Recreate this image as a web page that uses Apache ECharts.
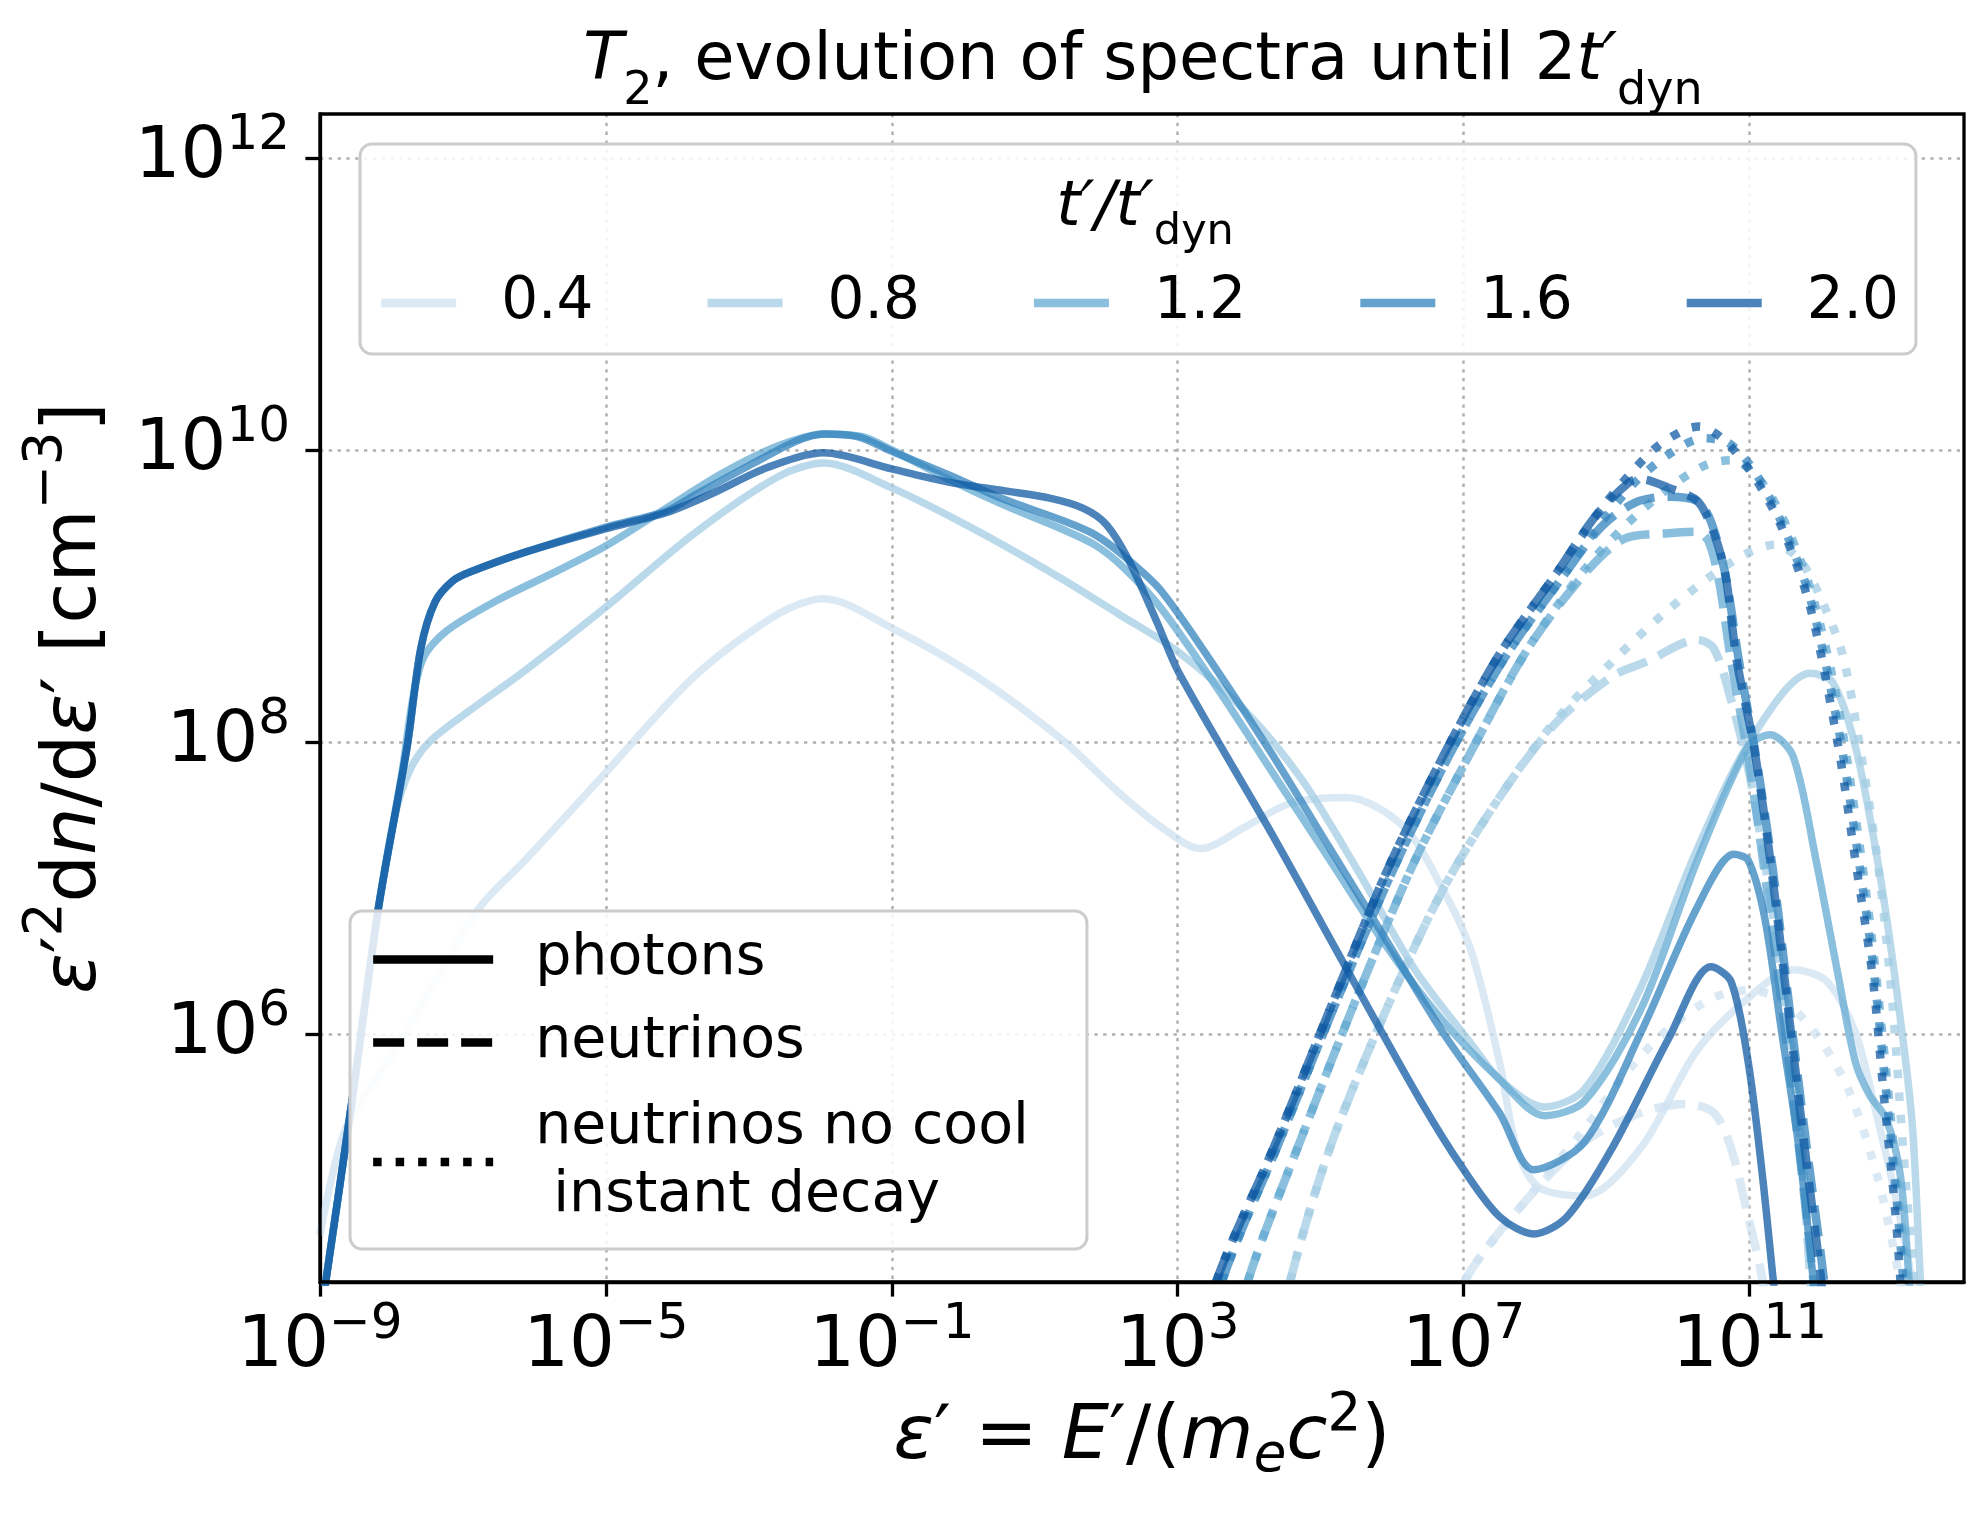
<!DOCTYPE html>
<html>
<head>
<meta charset="utf-8">
<title>T2 spectra evolution</title>
<script src="https://cdn.jsdelivr.net/npm/echarts@6/dist/echarts.min.js"></script>
<style>
    html, body { margin: 0; padding: 0; background: #fff; }
    #chart { width: 1984px; height: 1516px; }
</style>
</head>
<body>
<div id="chart"></div>
<script>
// points as [log10 eps', log10 eps'^2 dn/deps']
var TIMES = ['0.4', '0.8', '1.2', '1.6', '2.0'];
var COLORS = ['#cfe1f2', '#a3cce3', '#64aad3', '#3383be', '#0f5aa3'];
var X_TICKS = [-9, -5, -1, 3, 7, 11];
var Y_TICKS = [6, 8, 10, 12];
var X_MIN = 1e-9, X_MAX = 1e14;
var Y_MIN = 2e4, Y_MAX = 2e12;

// photons (solid)
var PH_04 = [[-9.0, 4.62], [-8.65, 5.34], [-8.0, 5.85], [-7.4, 6.35], [-6.76, 6.87], [-6.13, 7.19], [-5.02, 7.78],
    [-3.76, 8.45], [-2.58, 8.88], [-1.95, 8.98], [-1.0, 8.78], [0.18, 8.45], [1.37, 8.02], [2.16, 7.66], [2.76, 7.42],
    [3.32, 7.27], [3.95, 7.42], [4.58, 7.58], [5.37, 7.62], [6.16, 7.42], [6.71, 6.99], [7.11, 6.56], [7.5, 5.81],
    [7.74, 5.22], [8.05, 4.95], [8.69, 4.89], [9.48, 5.22], [10.27, 5.89], [11.06, 6.28], [11.61, 6.44], [12.08, 6.36],
    [12.48, 6.01], [12.79, 5.42], [13.03, 4.91], [13.27, 4.32], [13.35, 4.0]];
var PH_08 = [[-8.95, 4.2], [-8.55, 5.55], [-8.18, 6.87], [-7.95, 7.5], [-7.75, 7.8], [-7.47, 8.0], [-6.92, 8.21],
    [-6.13, 8.49], [-5.01, 8.92], [-3.76, 9.43], [-2.58, 9.82], [-1.95, 9.91], [-1.0, 9.74], [0.18, 9.45], [1.37, 9.12],
    [2.16, 8.88], [3.0, 8.62], [3.95, 8.21], [4.74, 7.74], [5.53, 7.11], [6.32, 6.44], [7.11, 5.93], [7.5, 5.69],
    [8.13, 5.5], [8.69, 5.62], [9.48, 6.32], [10.27, 7.27], [11.06, 8.05], [11.85, 8.47], [12.16, 8.41], [12.48, 7.97],
    [12.79, 7.19], [13.03, 6.4], [13.27, 5.42], [13.39, 4.32], [13.45, 3.9]];
var PH_12 = [[-8.95, 4.2], [-8.55, 5.55], [-8.18, 6.87], [-7.85, 7.8], [-7.7, 8.3], [-7.55, 8.58], [-7.23, 8.76],
    [-6.52, 8.97], [-5.73, 9.16], [-5.01, 9.34], [-4.16, 9.6], [-3.37, 9.84], [-2.58, 10.03], [-1.95, 10.11],
    [-1.4, 10.09], [-1.0, 10.0], [-0.21, 9.8], [0.58, 9.62], [1.37, 9.46], [1.84, 9.35], [2.23, 9.2], [2.76, 8.92],
    [3.55, 8.37], [4.34, 7.78], [5.13, 7.19], [5.92, 6.6], [6.71, 6.09], [7.5, 5.69], [8.13, 5.44], [8.69, 5.54],
    [9.48, 6.17], [10.27, 7.19], [10.98, 7.97], [11.29, 8.05], [11.61, 7.9], [11.93, 7.19], [12.24, 6.4], [12.48, 5.81],
    [12.68, 5.58], [12.91, 5.42], [13.11, 5.03], [13.23, 4.32], [13.28, 3.9]];
var PH_16 = [[-8.95, 4.2], [-8.55, 5.55], [-8.18, 6.87], [-7.78, 7.97], [-7.59, 8.64], [-7.39, 8.96], [-7.15, 9.1],
    [-6.92, 9.16], [-6.13, 9.3], [-5.01, 9.47], [-4.16, 9.58], [-3.76, 9.69], [-2.97, 9.9], [-2.34, 10.06],
    [-1.95, 10.11], [-1.47, 10.09], [-1.0, 9.99], [-0.21, 9.83], [0.58, 9.66], [1.37, 9.52], [1.84, 9.42], [2.23, 9.28],
    [2.76, 9.04], [3.55, 8.49], [4.34, 7.9], [5.13, 7.27], [5.92, 6.64], [6.71, 6.01], [7.5, 5.46], [7.98, 5.07],
    [8.69, 5.26], [9.48, 6.01], [10.27, 6.87], [10.78, 7.23], [10.98, 7.19], [11.21, 6.8], [11.45, 6.01], [11.69, 5.22],
    [11.89, 4.32], [11.95, 4.0]];
var PH_20 = [[-8.95, 4.2], [-8.55, 5.55], [-8.18, 6.87], [-7.78, 7.97], [-7.59, 8.64], [-7.39, 8.96], [-7.15, 9.1],
    [-6.92, 9.16], [-6.13, 9.3], [-5.01, 9.46], [-4.16, 9.57], [-3.52, 9.7], [-2.74, 9.88], [-1.95, 9.98], [-1.0, 9.87],
    [-0.21, 9.78], [0.58, 9.72], [1.21, 9.67], [1.68, 9.6], [2.0, 9.49], [2.31, 9.25], [2.71, 8.82], [3.02, 8.47],
    [4.34, 7.35], [5.37, 6.44], [6.4, 5.54], [7.0, 5.07], [7.5, 4.75], [7.98, 4.63], [8.45, 4.75], [9.08, 5.22],
    [9.87, 5.97], [10.46, 6.46], [10.74, 6.36], [10.98, 5.81], [11.18, 5.03], [11.33, 4.32], [11.4, 4.0]];

// neutrinos (dashed)
var NU_04 = [[6.9, 4.0], [7.03, 4.32], [7.82, 4.83], [8.69, 5.26], [9.48, 5.46], [10.11, 5.52], [10.5, 5.46],
    [10.74, 5.22], [10.98, 4.75], [11.18, 4.32], [11.25, 4.0]];
var NU_08 = [[4.5, 4.0], [4.58, 4.32], [5.13, 5.22], [5.92, 6.17], [6.71, 6.99], [7.5, 7.62], [8.29, 8.13],
    [9.08, 8.45], [9.56, 8.55], [10.27, 8.7], [10.5, 8.64], [10.74, 8.29], [10.98, 7.82], [11.21, 7.19], [11.45, 6.4],
    [11.69, 5.42], [11.85, 4.32], [11.9, 4.0]];
var NU_12 = [[3.9, 4.0], [3.99, 4.32], [4.74, 5.3], [5.53, 6.28], [6.32, 7.19], [7.11, 7.94], [7.9, 8.64],
    [8.69, 9.15], [9.24, 9.39], [9.87, 9.43], [10.27, 9.44], [10.43, 9.37], [10.58, 9.08], [10.74, 8.56], [10.98, 7.9],
    [11.21, 7.11], [11.45, 6.21], [11.69, 5.22], [11.89, 4.32], [11.95, 4.0]];
var NU_16 = [[3.55, 4.0], [3.63, 4.32], [4.42, 5.26], [5.21, 6.21], [6.0, 7.11], [6.79, 7.9], [7.58, 8.58],
    [8.37, 9.12], [8.92, 9.47], [9.4, 9.64], [9.87, 9.68], [10.27, 9.65], [10.46, 9.51], [10.66, 9.15], [10.85, 8.56],
    [11.09, 7.9], [11.33, 7.11], [11.56, 6.17], [11.8, 5.22], [12.04, 4.32], [12.1, 4.0]];
var NU_20 = [[3.45, 4.0], [3.55, 4.32], [4.34, 5.22], [5.13, 6.17], [5.92, 7.11], [6.71, 7.9], [7.5, 8.6],
    [8.29, 9.15], [8.85, 9.55], [9.32, 9.78], [9.48, 9.8], [9.87, 9.74], [10.27, 9.65], [10.5, 9.43], [10.66, 9.15],
    [10.82, 8.56], [11.06, 7.97], [11.29, 7.19], [11.53, 6.21], [11.77, 5.22], [12.0, 4.32], [12.05, 4.0]];

// neutrinos, no cooling and instant decay (dotted)
var NC_04 = [[6.9, 4.0], [7.03, 4.32], [7.82, 4.83], [8.69, 5.35], [9.3, 5.75], [9.9, 6.05], [10.5, 6.25],
    [11.0, 6.3], [11.5, 6.22], [12.0, 5.95], [12.4, 5.6], [12.8, 5.0], [13.1, 4.32], [13.2, 4.0]];
var NC_08 = [[4.5, 4.0], [4.58, 4.32], [5.13, 5.22], [5.92, 6.17], [6.71, 6.99], [7.5, 7.62], [8.29, 8.15],
    [9.08, 8.55], [9.8, 8.88], [10.5, 9.15], [11.0, 9.3], [11.35, 9.35], [11.7, 9.25], [12.0, 8.98], [12.3, 8.6],
    [12.55, 7.95], [12.8, 7.15], [13.0, 6.2], [13.15, 5.2], [13.3, 4.32], [13.35, 4.0]];
var NC_12 = [[3.9, 4.0], [3.99, 4.32], [4.74, 5.3], [5.53, 6.28], [6.32, 7.19], [7.11, 7.94], [7.9, 8.64],
    [8.69, 9.18], [9.3, 9.5], [9.9, 9.75], [10.4, 9.9], [10.75, 9.93], [11.1, 9.82], [11.45, 9.55], [11.85, 9.05],
    [12.2, 8.35], [12.45, 7.6], [12.7, 6.7], [12.9, 5.8], [13.08, 4.9], [13.2, 4.32], [13.25, 4.0]];
var NC_16 = [[3.55, 4.0], [3.63, 4.32], [4.42, 5.26], [5.21, 6.21], [6.0, 7.11], [6.79, 7.9], [7.58, 8.58],
    [8.37, 9.12], [8.92, 9.5], [9.4, 9.78], [9.9, 9.98], [10.35, 10.08], [10.7, 10.05], [11.06, 9.86], [11.45, 9.5],
    [11.85, 8.98], [12.24, 8.1], [12.48, 7.35], [12.72, 6.5], [12.9, 5.65], [13.06, 4.85], [13.15, 4.32], [13.2, 4.0]];
var NC_20 = [[3.45, 4.0], [3.55, 4.32], [4.34, 5.22], [5.13, 6.17], [5.92, 7.11], [6.71, 7.9], [7.5, 8.6],
    [8.29, 9.15], [8.85, 9.55], [9.3, 9.82], [9.7, 10.02], [10.1, 10.14], [10.3, 10.16], [10.66, 10.06], [11.06, 9.82],
    [11.45, 9.47], [11.85, 8.92], [12.24, 7.97], [12.48, 7.19], [12.72, 6.4], [12.87, 5.62], [13.03, 4.83],
    [13.11, 4.32], [13.15, 4.0]];

var PHOTONS = [PH_04, PH_08, PH_12, PH_16, PH_20];
var NEUTRINOS = [NU_04, NU_08, NU_12, NU_16, NU_20];
var NOCOOL = [NC_04, NC_08, NC_12, NC_16, NC_20];

var FONT = 'DejaVu Sans';
var DASH = [31, 13];
var DOT = [8.5, 14];
var KIND_NAMES = ['photons', 'neutrinos', 'neutrinos no cool\n instant decay'];

function toPoints(arr) {
    return arr.map(function (p) {
        return [Math.pow(10, p[0]), Math.pow(10, p[1])];
    });
}

function makeLine(name, pts, color, dash, width, opacity) {
    return {
        name: name,
        type: 'line',
        xAxisIndex: 1,
        yAxisIndex: 1,
        data: toPoints(pts),
        smooth: 0.3,
        symbol: 'none',
        showSymbol: false,
        silent: true,
        emphasis: {disabled: true},
        lineStyle: {color: color, width: width, type: dash, opacity: opacity, cap: 'butt'},
        itemStyle: {color: color},
        z: 2
    };
}

function expLabel(v) {
    var e = Math.round(v);
    return '{b|10}{s|' + (e < 0 ? '\u2212' + (-e) : e) + '}';
}

// mathtext-like pieces: upright, italic, superscript, subscript
function mathRich(size) {
    var small = Math.round(size * 0.7);
    return {
        n: {fontFamily: FONT, fontSize: size, lineHeight: size, fontWeight: 'normal', color: '#000'},
        it: {fontFamily: FONT, fontStyle: 'italic', fontSize: size, lineHeight: size, fontWeight: 'normal', color: '#000'},
        sup: {fontFamily: FONT, fontSize: small, lineHeight: small, fontWeight: 'normal', padding: [0, 0, Math.round(size * 0.6), 0], color: '#000'},
        sub: {fontFamily: FONT, fontSize: small, lineHeight: small, fontWeight: 'normal', padding: [Math.round(size * 0.85), 0, 0, 0], color: '#000'},
        subi: {fontFamily: FONT, fontStyle: 'italic', fontSize: small, lineHeight: small, fontWeight: 'normal', padding: [Math.round(size * 0.5), 0, 0, 0], color: '#000'}
    };
}

var tickRich = {
    b: {fontFamily: FONT, fontSize: 72, lineHeight: 72, color: '#000'},
    s: {fontFamily: FONT, fontSize: 50, lineHeight: 50, padding: [0, 0, 43, 0], color: '#000'}
};

var series = [];
for (var i = 0; i < TIMES.length; i++) {
    series.push(makeLine(TIMES[i], PHOTONS[i], COLORS[i], 'solid', 7.5, 0.75));
    series.push(makeLine(TIMES[i] + ' nu', NEUTRINOS[i], COLORS[i], DASH, 8.5, 0.75));
    series.push(makeLine(TIMES[i] + ' nc', NOCOOL[i], COLORS[i], DOT, 8.5, 0.75));
}
// black samples used only by the line style legend
series.push(makeLine(KIND_NAMES[0], [], '#000', 'solid', 8.3, 1));
series.push(makeLine(KIND_NAMES[1], [], '#000', DASH, 8.3, 1));
series.push(makeLine(KIND_NAMES[2], [], '#000', DOT, 8.3, 1));

var chart = echarts.init(document.getElementById('chart'), null, {renderer: 'canvas', devicePixelRatio: 1});

var titleRich = mathRich(65.5);
titleRich.sub.padding = [60, 0, 0, 0];
var legendTitleRich = mathRich(62);
legendTitleRich.sub.padding = [47, 0, 0, 0];
var nameRich = mathRich(75);
nameRich.sup.padding = [0, 0, 45, 0];
nameRich.subi.padding = [38, 0, 0, 0];
var yNameRich = mathRich(75);
yNameRich.sup.padding = [0, 0, 56, 0];

var option = {
    animation: false,
    backgroundColor: '#fff',
    textStyle: {fontFamily: FONT},
    title: [{
        text: '{it|T}{sub|2}{n|, evolution of spectra until 2}{it|t\u2032}{sub|dyn}',
        left: 1143,
        top: 29,
        padding: 0,
        textAlign: 'center',
        textStyle: {fontWeight: 'normal', rich: titleRich}
    }, {
        text: '{it|t\u2032/t\u2032}{sub|dyn}',
        left: 1145,
        top: 178,
        padding: 0,
        textAlign: 'center',
        z: 12,
        textStyle: {fontWeight: 'normal', rich: legendTitleRich}
    }],
    grid: {
        left: 320,
        right: 20,
        top: 114,
        bottom: 234,
        show: true,
        borderColor: '#000',
        borderWidth: 3.3,
        containLabel: false,
        outerBoundsMode: 'none',
        z: 3
    },
    legend: [{
        data: TIMES,
        orient: 'horizontal',
        left: 360,
        top: 144,
        padding: [126, 17, 18, 17],
        itemWidth: 75,
        itemHeight: 20,
        itemGap: 110,
        selectedMode: false,
        backgroundColor: 'rgba(255,255,255,0.85)',
        borderColor: '#cccccc',
        borderWidth: 3,
        borderRadius: 12,
        itemStyle: {opacity: 0},
        lineStyle: {width: 8.3, type: 'solid', opacity: 0.75, cap: 'butt'},
        textStyle: {fontFamily: FONT, fontSize: 58, lineHeight: 66, color: '#000', padding: [0, 0, 0, 40]},
        z: 10
    }, {
        data: [
            {name: KIND_NAMES[0], textStyle: {lineHeight: 63}},
            {name: KIND_NAMES[1], textStyle: {lineHeight: 63}},
            {name: KIND_NAMES[2], textStyle: {lineHeight: 68}}
        ],
        orient: 'vertical',
        left: 350,
        top: 911,
        padding: [17, 58, 19, 19],
        itemWidth: 120,
        itemHeight: 14,
        itemGap: 20,
        selectedMode: false,
        backgroundColor: 'rgba(255,255,255,0.85)',
        borderColor: '#cccccc',
        borderWidth: 3,
        borderRadius: 12,
        itemStyle: {opacity: 0},
        lineStyle: {width: 8.3, opacity: 1, cap: 'butt'},
        textStyle: {fontFamily: FONT, fontSize: 57, color: '#000', padding: [0, 0, 0, 37]},
        z: 10
    }],
    xAxis: [{
        // ticks, labels and grid lines in decades
        type: 'value',
        position: 'bottom',
        min: -9,
        max: 14,
        interval: 4,
        name: '{it|\u03b5}{n|\u2032 = }{it|E}{n|\u2032/(}{it|m}{subi|e}{it|c}{sup|2}{n|)}',
        nameLocation: 'middle',
        nameGap: 119,
        nameMoveOverlap: false,
        nameTextStyle: {rich: nameRich},
        axisLine: {show: true, onZero: false, lineStyle: {color: '#000', width: 3.3}},
        axisTick: {show: true, inside: false, length: 14.6, customValues: X_TICKS, lineStyle: {color: '#000', width: 3.3}},
        axisLabel: {show: true, margin: 29, customValues: X_TICKS, formatter: expLabel, rich: tickRich},
        splitLine: {show: true, lineStyle: {color: '#b0b0b0', width: 2.5, type: [3.3, 5.5]}},
        minorTick: {show: false},
        z: 1
    }, {
        type: 'log',
        logBase: 10,
        position: 'top',
        min: X_MIN,
        max: X_MAX,
        show: false
    }],
    yAxis: [{
        type: 'value',
        position: 'left',
        min: Math.log10(Y_MIN),
        max: Math.log10(Y_MAX),
        splitNumber: 4,
        name: '{it|\u03b5}{n|\u2032}{sup|2}{n|d}{it|n}{n|/d}{it|\u03b5}{n|\u2032 [cm}{sup|\u22123}{n|]}',
        nameLocation: 'middle',
        nameRotate: 90,
        nameGap: 207,
        nameMoveOverlap: false,
        nameTextStyle: {rich: yNameRich},
        axisLine: {show: true, onZero: false, lineStyle: {color: '#000', width: 3.3}},
        axisTick: {show: true, inside: false, length: 14.6, customValues: Y_TICKS, lineStyle: {color: '#000', width: 3.3}},
        axisLabel: {show: true, margin: 30, customValues: Y_TICKS, formatter: expLabel, rich: tickRich},
        splitLine: {show: true, lineStyle: {color: '#b0b0b0', width: 2.5, type: [3.3, 5.5]}},
        minorTick: {show: false},
        z: 1
    }, {
        type: 'log',
        logBase: 10,
        position: 'right',
        min: Y_MIN,
        max: Y_MAX,
        show: false
    }],
    series: series
};

chart.setOption(option);
</script>
</body>
</html>
